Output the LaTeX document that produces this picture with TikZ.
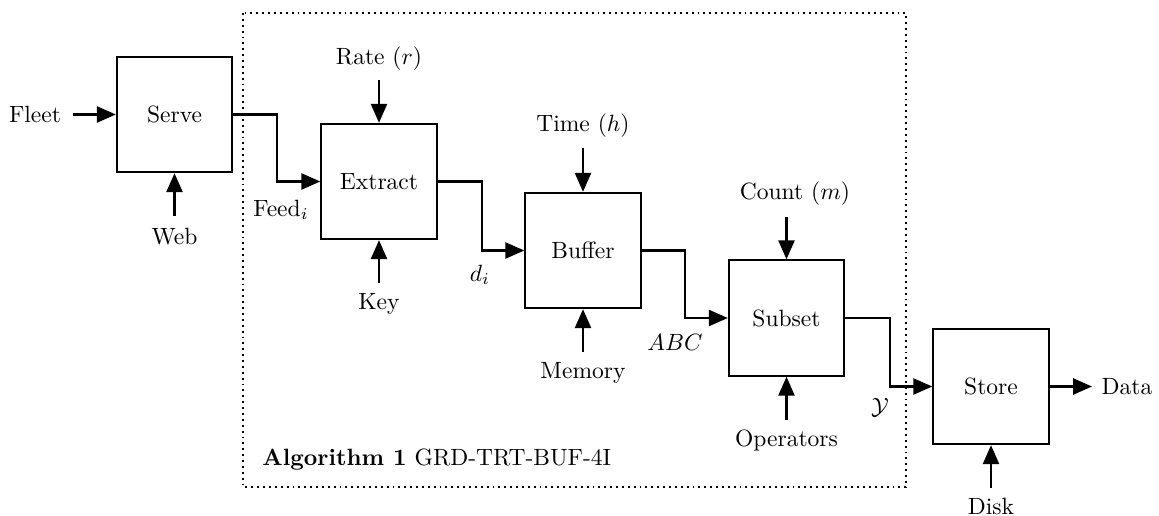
\documentclass[tikz,border=0pt]{standalone}
\usetikzlibrary{arrows.meta}
\begin{document}
\begin{tikzpicture}[x=0.425pt,y=-0.425pt,
  blk/.style={draw,line width=0.9pt,minimum width=49pt,minimum height=49pt,inner sep=0pt},
  lbl/.style={inner sep=0pt},
  conn/.style={line width=0.9pt,-{Triangle[length=8pt,width=6.8pt]}},
  framebox/.style={line width=0.8pt,dash pattern=on 0.8pt off 1.7pt}]
\useasboundingbox (0,0) rectangle (1159,516);
\draw[framebox] (243,13) rectangle (906,487);
% blocks
\node[blk] (serve) at (174.5,114.5) {Serve};
\node[blk] (extract) at (379,181.5) {Extract};
\node[blk] (buffer) at (583,250.5) {Buffer};
\node[blk] (subset) at (786.5,318) {Subset};
\node[blk] (store) at (991,386.5) {Store};
% external inputs
\node[lbl] (fleet) at (35,114.5) {Fleet};
\coordinate (fleetA) at (73,114.5);
\draw[conn] (fleetA) -- (serve.west);
\node[lbl] (web) at (174.5,237) {Web};
\coordinate (webA) at (174.5,216);
\draw[conn] (webA) -- (serve.south);
\node[lbl] (rate) at (379,59) {Rate ($r$)};
\coordinate (rateA) at (379,80);
\draw[conn] (rateA) -- (extract.north);
\node[lbl] (key) at (379,304) {Key};
\coordinate (keyA) at (379,283);
\draw[conn] (keyA) -- (extract.south);
\node[lbl] (time) at (583,126) {Time ($h$)};
\coordinate (timeA) at (583,148);
\draw[conn] (timeA) -- (buffer.north);
\node[lbl] (memory) at (583,373) {Memory};
\coordinate (memoryA) at (583,352);
\draw[conn] (memoryA) -- (buffer.south);
\node[lbl] (count) at (795,194) {Count~($m$)};
\coordinate (countA) at (786.5,217);
\draw[conn] (countA) -- (subset.north);
\node[lbl] (ops) at (786.5,440) {Operators};
\coordinate (opsA) at (786.5,420);
\draw[conn] (opsA) -- (subset.south);
\node[lbl] (disk) at (991,506) {Disk};
\coordinate (diskA) at (991,488);
\draw[conn] (diskA) -- (store.south);
\coordinate (dataA) at (1092,386.5);
\draw[conn] (store.east) -- (dataA);
\node[lbl] (data) at (1127,386.5) {Data};
% chain
\draw[conn] (serve.east) -- ++(44,0) |- (extract.west);
\draw[conn] (extract.east) -- ++(44,0) |- (buffer.west);
\draw[conn] (buffer.east) -- ++(43,0) |- (subset.west);
\draw[conn] (subset.east) -- ++(45,0) |- (store.west);
\node[lbl] (feed) at (281,210) {Feed$_i$};
\node[lbl] (di) at (480,275) {$d_i$};
\node[lbl] (abc) at (675,342) {$ABC$};
\node[lbl] (yy) at (880,408) {$\mathcal{Y}$};
\node[lbl,anchor=base west] (alg) at (262,465) {\textbf{Algorithm 1} GRD-TRT-BUF-4I};
\end{tikzpicture}
\end{document}
